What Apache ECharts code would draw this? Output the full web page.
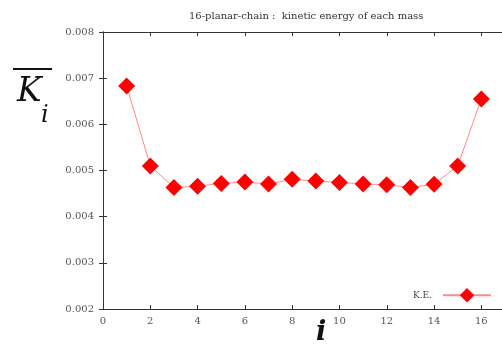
<!DOCTYPE html>
<html>
<head>
<meta charset="utf-8">
<style>
  html, body { margin: 0; padding: 0; background: #fff; }
  #chart { width: 502px; height: 345px; }
</style>
<script src="https://cdn.jsdelivr.net/npm/echarts@6/dist/echarts.min.js"></script>
</head>
<body>
<div id="chart"></div>
<script>
// mass index and mean kinetic energy of each mass
const massIndex = [1, 2, 3, 4, 5, 6, 7, 8, 9, 10, 11, 12, 13, 14, 15, 16];
const kinetic = [0.00683, 0.00510, 0.00463, 0.00466, 0.00472, 0.00475, 0.00471, 0.00481,
  0.00477, 0.00474, 0.00471, 0.00469, 0.00463, 0.00470, 0.00510, 0.00655];

const serif = "'DejaVu Serif', 'Liberation Serif', serif";
const axisColor = "#333";
const labelColor = "#555";

const chart = echarts.init(document.getElementById("chart"));

chart.setOption({
  backgroundColor: "#fff",
  animation: false,
  title: {
    text: "16-planar-chain :  kinetic energy of each mass",
    left: 184,
    top: 6,
    textStyle: { fontFamily: serif, fontSize: 10, fontWeight: "normal", color: "#333" }
  },
  grid: { left: 103, right: -3, top: 32, bottom: 36, outerBoundsMode: "none" },
  legend: {
    data: ["K.E."],
    left: 408,
    top: 283,
    align: "right",
    itemWidth: 48,
    itemHeight: 18,
    itemGap: 8,
    textStyle: { fontFamily: serif, fontSize: 9, color: "#444", padding: [0, 6, 0, 0] }
  },
  xAxis: [
    {
      type: "value",
      min: 0,
      max: 17,
      interval: 2,
      axisLine: { lineStyle: { color: axisColor, width: 1 } },
      axisTick: { inside: true, length: 4, lineStyle: { color: axisColor } },
      axisLabel: {
        fontFamily: serif, fontSize: 10, color: labelColor, margin: 7,
        showMaxLabel: false
      },
      splitLine: { show: false }
    },
    {
      type: "value",
      position: "top",
      min: 0,
      max: 17,
      interval: 2,
      axisLine: { lineStyle: { color: axisColor, width: 1 } },
      axisTick: { inside: true, length: 4, lineStyle: { color: axisColor } },
      axisLabel: { show: false },
      splitLine: { show: false }
    }
  ],
  yAxis: [
    {
      type: "value",
      min: 0.002,
      max: 0.008,
      interval: 0.001,
      axisLine: { show: true, lineStyle: { color: axisColor, width: 1 } },
      axisTick: { show: true, inside: true, length: 4, lineStyle: { color: axisColor } },
      axisLabel: {
        fontFamily: serif, fontSize: 10, color: labelColor, margin: 9,
        formatter: (v) => v.toFixed(3)
      },
      splitLine: { show: false }
    },
    {
      type: "value",
      position: "right",
      min: 0.002,
      max: 0.008,
      interval: 0.001,
      axisLine: { show: true, lineStyle: { color: axisColor, width: 1 } },
      axisTick: { show: true, inside: true, length: 4, lineStyle: { color: axisColor } },
      axisLabel: { show: false },
      splitLine: { show: false }
    }
  ],
  graphic: [
    {
      type: "line",
      shape: { x1: 13, y1: 69, x2: 52, y2: 69 },
      style: { stroke: "#111", lineWidth: 2 }
    },
    {
      type: "text",
      left: 17,
      top: 76,
      style: { text: "K", font: "italic 33px " + serif, fill: "#111" }
    },
    {
      type: "text",
      left: 41,
      top: 104,
      style: { text: "i", font: "italic 24px " + serif, fill: "#111" }
    },
    {
      type: "text",
      left: 316,
      top: 319,
      style: { text: "i", font: "italic bold 27px " + serif, fill: "#111" }
    }
  ],
  series: [
    {
      name: "K.E.",
      type: "line",
      data: massIndex.map((m, i) => [m, kinetic[i]]),
      symbol: "diamond",
      symbolSize: 17,
      itemStyle: { color: "#ff0000" },
      lineStyle: { color: "#ff8a8a", width: 1 }
    }
  ]
});
</script>
</body>
</html>
